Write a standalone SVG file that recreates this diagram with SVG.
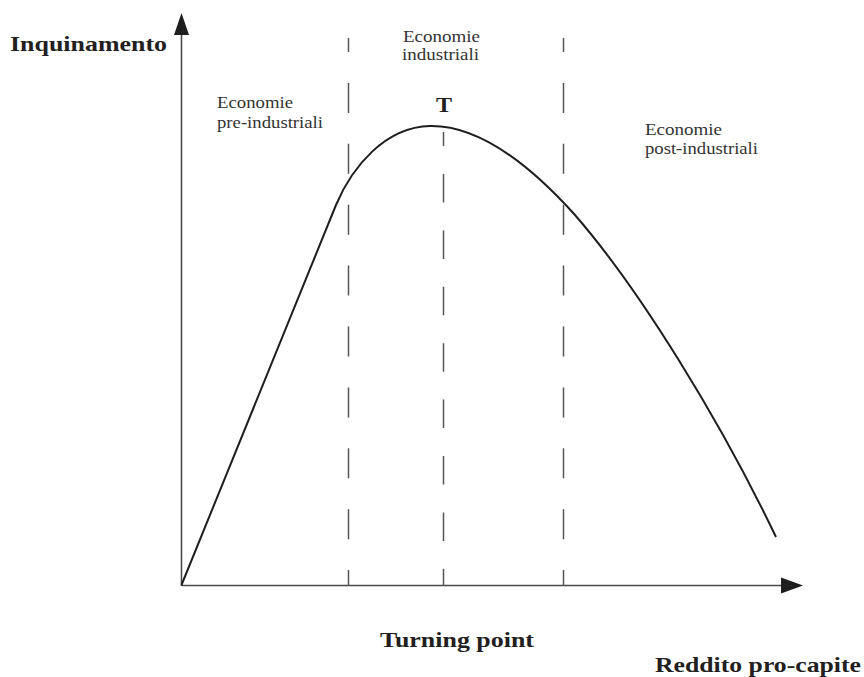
<svg xmlns="http://www.w3.org/2000/svg" width="864" height="677" viewBox="0 0 864 677">
<style>
.lbl{font-family:"Liberation Serif","Times New Roman",serif;font-size:17px;fill:#333;}
.bold{font-family:"Liberation Serif","Times New Roman",serif;font-weight:bold;font-size:21px;fill:#231f20;}
.axis{stroke:#4a4a4a;stroke-width:1.6;fill:none;}
.dash{stroke:#555;stroke-width:1.5;fill:none;}
.curve{stroke:#1e1e1e;stroke-width:2;fill:none;}
.head{fill:#1e1e1e;}
</style>
<rect width="864" height="677" fill="#fff"/>
<g id="axes">
  <line class="axis" x1="181.5" y1="586" x2="181.5" y2="32"/>
  <polygon class="head" points="181.5,13 174,35 189,35"/>
  <line class="axis" x1="181.5" y1="585.5" x2="783" y2="585.5"/>
  <polygon class="head" points="803,585.5 781,577.5 781,593.5"/>
</g>
<g id="dividers">
  <line class="dash" x1="348.5" y1="38" x2="348.5" y2="585" stroke-dasharray="30 30.9" stroke-dashoffset="16"/>
  <line class="dash" x1="563.5" y1="38" x2="563.5" y2="585" stroke-dasharray="30 30.9" stroke-dashoffset="16"/>
  <line class="dash" x1="443.5" y1="132" x2="443.5" y2="585" stroke-dasharray="28.5 27.9" stroke-dashoffset="14.4"/>
</g>
<g id="curve">
  <path class="curve" d="M181.5,585 L336,205 C352,167 385,127 430,126 C480,125 530,165 575,215 C640,290 720,420 776,537"/>
</g>
<g id="labels">
  <text class="bold" x="10" y="51" textLength="157" lengthAdjust="spacingAndGlyphs">Inquinamento</text>
  <text class="lbl" x="217" y="108" textLength="76" lengthAdjust="spacingAndGlyphs">Economie</text>
  <text class="lbl" x="217" y="127.5" textLength="106" lengthAdjust="spacingAndGlyphs">pre-industriali</text>
  <text class="lbl" x="403" y="41.5" textLength="77" lengthAdjust="spacingAndGlyphs">Economie</text>
  <text class="lbl" x="402" y="59.5" textLength="77" lengthAdjust="spacingAndGlyphs">industriali</text>
  <text class="bold" x="436" y="112.3" font-size="22" textLength="16" lengthAdjust="spacingAndGlyphs">T</text>
  <text class="lbl" x="645" y="135" textLength="77" lengthAdjust="spacingAndGlyphs">Economie</text>
  <text class="lbl" x="645" y="154" textLength="113" lengthAdjust="spacingAndGlyphs">post-industriali</text>
  <text class="bold" x="380" y="647" textLength="154" lengthAdjust="spacingAndGlyphs">Turning point</text>
  <text class="bold" x="655" y="672" textLength="206" lengthAdjust="spacingAndGlyphs">Reddito pro-capite</text>
</g>
</svg>
